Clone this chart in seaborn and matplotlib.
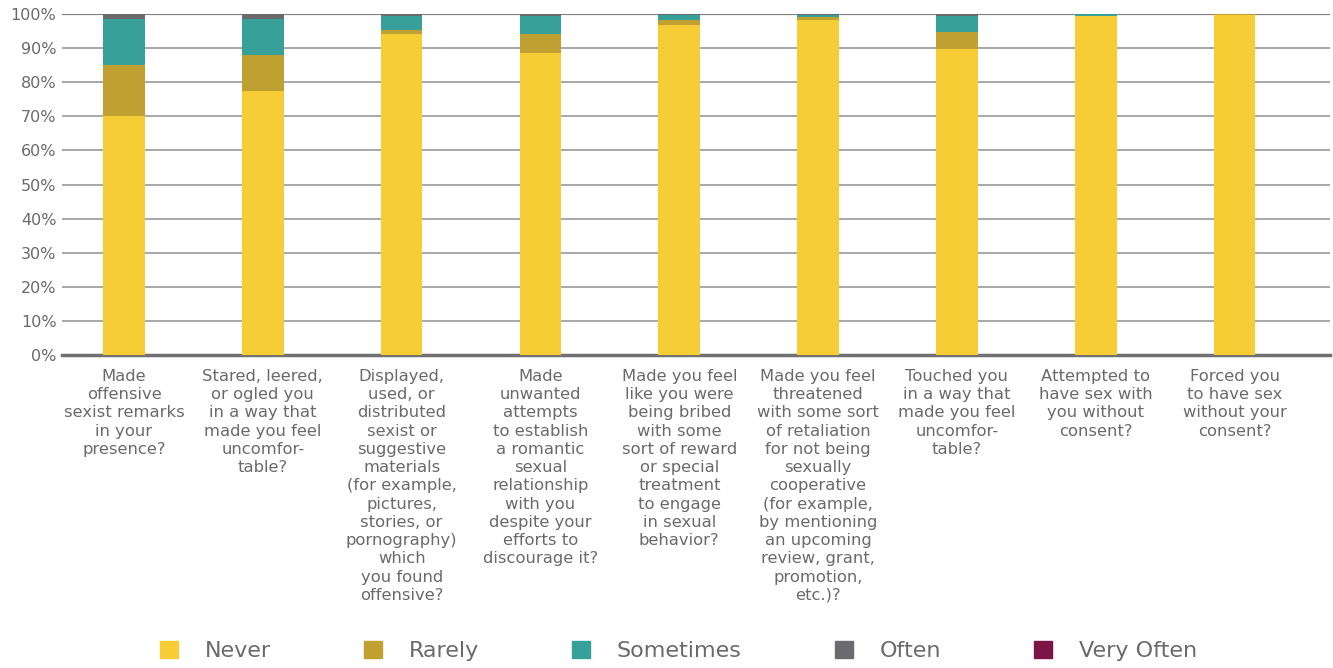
import matplotlib
matplotlib.use("Agg")
import matplotlib.pyplot as plt
import matplotlib.patches as mpatches
import pandas as pd
import seaborn as sns

questions = [
    "Made\noffensive\nsexist remarks\nin your\npresence?",
    "Stared, leered,\nor ogled you\nin a way that\nmade you feel\nuncomfor-\ntable?",
    "Displayed,\nused, or\ndistributed\nsexist or\nsuggestive\nmaterials\n(for example,\npictures,\nstories, or\npornography)\nwhich\nyou found\noffensive?",
    "Made\nunwanted\nattempts\nto establish\na romantic\nsexual\nrelationship\nwith you\ndespite your\nefforts to\ndiscourage it?",
    "Made you feel\nlike you were\nbeing bribed\nwith some\nsort of reward\nor special\ntreatment\nto engage\nin sexual\nbehavior?",
    "Made you feel\nthreatened\nwith some sort\nof retaliation\nfor not being\nsexually\ncooperative\n(for example,\nby mentioning\nan upcoming\nreview, grant,\npromotion,\netc.)?",
    "Touched you\nin a way that\nmade you feel\nuncomfor-\ntable?",
    "Attempted to\nhave sex with\nyou without\nconsent?",
    "Forced you\nto have sex\nwithout your\nconsent?",
]

# percentages
never = [70.1, 77.4, 94.1, 88.6, 96.8, 98.2, 89.7, 99.5, 99.7]
rarely = [14.9, 10.6, 1.2, 5.5, 1.4, 0.8, 5.0, 0.0, 0.3]
sometimes = [13.5, 10.5, 4.1, 5.3, 1.5, 0.6, 4.7, 0.5, 0.0]
often = [1.5, 1.5, 0.6, 0.6, 0.3, 0.4, 0.6, 0.0, 0.0]
very_often = [0.0, 0.0, 0.0, 0.0, 0.0, 0.0, 0.0, 0.0, 0.0]

answers = ["Never", "Rarely", "Sometimes", "Often", "Very Often"]
colors = ["#F6CD35", "#C0A030", "#37A099", "#6B6B6F", "#7D1446"]

df = pd.DataFrame({"question": questions, "Never": never, "Rarely": rarely,
                   "Sometimes": sometimes, "Often": often, "Very Often": very_often})
# cumulative tops, so bars can be layered from the top answer downwards
cum = df[answers].cumsum(axis=1)

sns.set_style("white")
plt.rcParams['font.family'] = ['DejaVu Sans']
text_col = "#6a6a6a"

fig = plt.figure(figsize=(13.33, 6.68), dpi=100)
ax = fig.add_axes([0.0465, 0.4686, 0.9515, 0.5104])

for ans, col in zip(reversed(answers), reversed(colors)):
    sns.barplot(x=df["question"], y=cum[ans], color=col, width=0.30,
                saturation=1, linewidth=0, ax=ax, zorder=3)

ax.set_ylim(0, 100)
ax.set_xlim(-0.447, 8.69)
ax.set_yticks(range(0, 101, 10))
ax.set_yticklabels([f"{v}%" for v in range(0, 101, 10)], fontsize=11.5, color=text_col)
ax.yaxis.grid(True, color="#a8a8a8", linewidth=1.4, zorder=0)
ax.set_xlabel("")
ax.set_ylabel("")
ax.tick_params(axis="x", length=0, pad=10)
ax.tick_params(axis="y", length=0, pad=4)
for lab in ax.get_xticklabels():
    lab.set_fontsize(11.8)
    lab.set_color(text_col)
    lab.set_linespacing(1.27)
    lab.set_va("top")
for s in ["top", "right", "left"]:
    ax.spines[s].set_visible(False)
ax.spines["bottom"].set_color("#707070")
ax.spines["bottom"].set_linewidth(2.5)
ax.axhline(100, color="#808080", linewidth=1.6, zorder=2)

handles = [mpatches.Patch(color=c, label=a) for a, c in zip(answers, colors)]
leg = fig.legend(handles=handles, loc="center", bbox_to_anchor=(0.509, 0.026), ncol=5,
                 frameon=False, fontsize=16, handlelength=0.8, handleheight=0.8,
                 handletextpad=1.2, columnspacing=4.2)
for t in leg.get_texts():
    t.set_color(text_col)

fig.savefig("out.png", dpi=100)
